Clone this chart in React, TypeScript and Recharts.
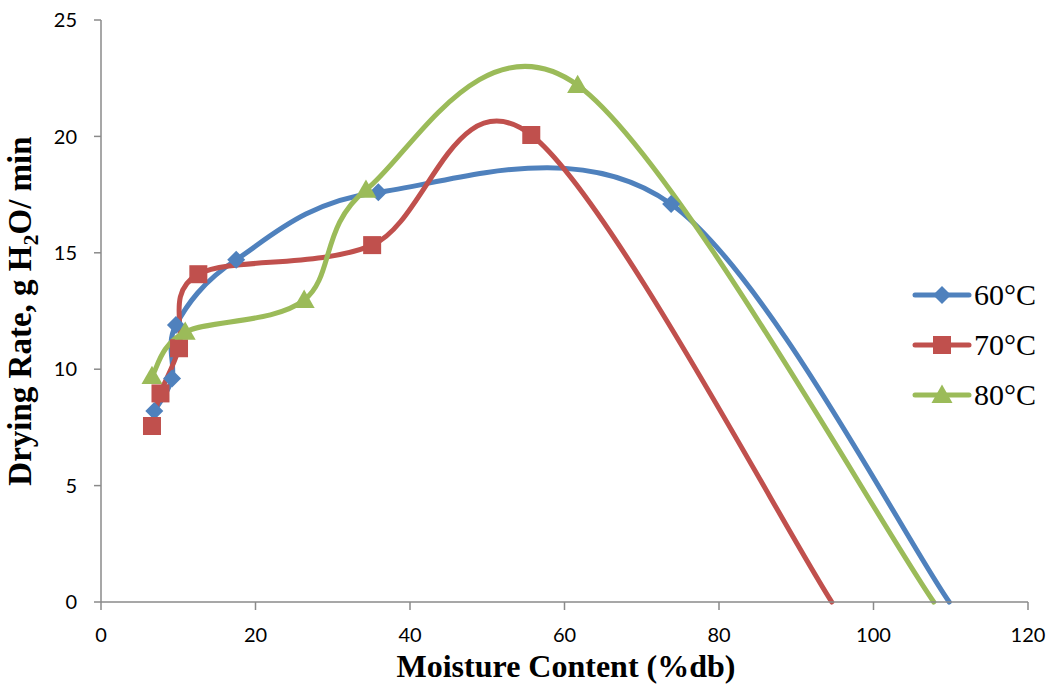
import React from 'react'
import { LineChart, Line, XAxis, YAxis, Legend } from 'recharts'

const moisture60 = [6.9, 9.2, 9.7, 17.5, 35.9, 73.8, 109.8]
const rate60 = [8.2, 9.6, 11.9, 14.7, 17.6, 17.1, 0]

const moisture70 = [6.6, 7.7, 10.1, 12.6, 35.1, 55.7, 94.6]
const rate70 = [7.56, 8.96, 10.9, 14.08, 15.33, 20.06, 0]

const moisture80 = [6.6, 10.9, 26.3, 34.3, 61.7, 107.8]
const rate80 = [9.7, 11.6, 12.97, 17.7, 22.2, 0]

const xTicks = [0, 20, 40, 60, 80, 100, 120]
const yTicks = [0, 5, 10, 15, 20, 25]

const toRows = (xs: number[], ys: number[]) => xs.map((x, i) => ({ x, y: ys[i] }))

const series = [
  { name: '60°C', color: '#4F81BD', shape: 'diamond', data: toRows(moisture60, rate60) },
  { name: '70°C', color: '#C0504D', shape: 'square', data: toRows(moisture70, rate70) },
  { name: '80°C', color: '#9BBB59', shape: 'triangle', data: toRows(moisture80, rate80) },
]

// Excel-like smoothed line (Catmull-Rom through every point)
const smoothCurve = (context: any) => {
  let pts: number[][] = []
  return {
    areaStart() {},
    areaEnd() {},
    lineStart() {
      pts = []
    },
    lineEnd() {
      const n = pts.length
      if (!n) return
      context.moveTo(pts[0][0], pts[0][1])
      for (let i = 0; i < n - 1; i++) {
        const p0 = pts[Math.max(i - 1, 0)]
        const p1 = pts[i]
        const p2 = pts[i + 1]
        const p3 = pts[Math.min(i + 2, n - 1)]
        context.bezierCurveTo(
          p1[0] + (p2[0] - p0[0]) / 6,
          p1[1] + (p2[1] - p0[1]) / 6,
          p2[0] - (p3[0] - p1[0]) / 6,
          p2[1] - (p3[1] - p1[1]) / 6,
          p2[0],
          p2[1]
        )
      }
    },
    point(x: number, y: number) {
      pts.push([+x, +y])
    },
  }
}

function Marker({ shape, color, cx, cy }: { shape: string; color: string; cx: number; cy: number }) {
  if (shape === 'diamond') {
    const r = 9
    return <path d={`M${cx},${cy - r}L${cx + r},${cy}L${cx},${cy + r}L${cx - r},${cy}Z`} fill={color} />
  }
  if (shape === 'square') {
    const r = 9
    return <rect x={cx - r} y={cy - r} width={r * 2} height={r * 2} fill={color} />
  }
  const r = 10.5
  return <path d={`M${cx},${cy - r}L${cx + r},${cy + r * 0.75}L${cx - r},${cy + r * 0.75}Z`} fill={color} />
}

const makeDot = (shape: string, color: string) => (props: any) => {
  const { cx, cy, payload, index } = props
  if (payload.y === 0) return <g key={`d${index}`} />
  return (
    <g key={`d${index}`}>
      <Marker shape={shape} color={color} cx={cx} cy={cy} />
    </g>
  )
}

const axisColor = '#8A8A8A'
const tickStyle = { fontFamily: 'Lato', fontSize: 20, fill: '#000' }

const renderLegend = () => (
  <div style={{ fontFamily: '"Liberation Serif", serif', fontSize: 30, color: '#000' }}>
    {series.map((s) => (
      <div key={s.name} style={{ display: 'flex', alignItems: 'center', height: 50 }}>
        <svg width={60} height={30}>
          <line x1={3} y1={15} x2={57} y2={15} stroke={s.color} strokeWidth={5} strokeLinecap="round" />
          <Marker shape={s.shape} color={s.color} cx={30} cy={15} />
        </svg>
        <span style={{ marginLeft: 2 }}>{s.name}</span>
      </div>
    ))}
  </div>
)

const YLabel = () => (
  <text
    x={31}
    y={311}
    transform="rotate(-90, 31, 311)"
    textAnchor="middle"
    fontFamily="Liberation Serif"
    fontWeight="bold"
    fontSize={33}
    fill="#000"
  >
    Drying Rate, g H<tspan dy={7} fontSize={22}>2</tspan>
    <tspan dy={-7}>O/ min</tspan>
  </text>
)

const XLabel = () => (
  <text
    x={566}
    y={677}
    textAnchor="middle"
    fontFamily="Liberation Serif"
    fontWeight="bold"
    fontSize={32}
    fill="#000"
  >
    Moisture Content (%db)
  </text>
)

export default function App() {
  return (
    <div style={{ position: 'absolute', left: 0, top: 0, background: '#fff' }}>
      <LineChart width={1053} height={686} margin={{ top: 20, right: 25, bottom: 54, left: 0 }}>
        <XAxis
          type="number"
          dataKey="x"
          domain={[0, 120]}
          ticks={xTicks}
          tick={tickStyle}
          tickSize={8}
          tickMargin={18}
          stroke={axisColor}
          strokeWidth={1.5}
          height={30}
          label={{ content: () => <XLabel /> }}
        />
        <YAxis
          type="number"
          dataKey="y"
          domain={[0, 25]}
          ticks={yTicks}
          width={101}
          tick={tickStyle}
          tickSize={7}
          tickMargin={17}
          stroke={axisColor}
          strokeWidth={1.5}
          label={{ content: () => <YLabel /> }}
        />
        <Legend
          layout="vertical"
          align="center"
          verticalAlign="middle"
          content={renderLegend}
          wrapperStyle={{ left: 912, top: 270, width: 140 }}
        />
        {series.map((s) => (
          <Line
            key={s.name}
            name={s.name}
            data={s.data}
            dataKey="y"
            type={smoothCurve as any}
            stroke={s.color}
            strokeWidth={5}
            strokeLinecap="round"
            dot={makeDot(s.shape, s.color)}
            activeDot={false}
            isAnimationActive={false}
          />
        ))}
      </LineChart>
    </div>
  )
}
